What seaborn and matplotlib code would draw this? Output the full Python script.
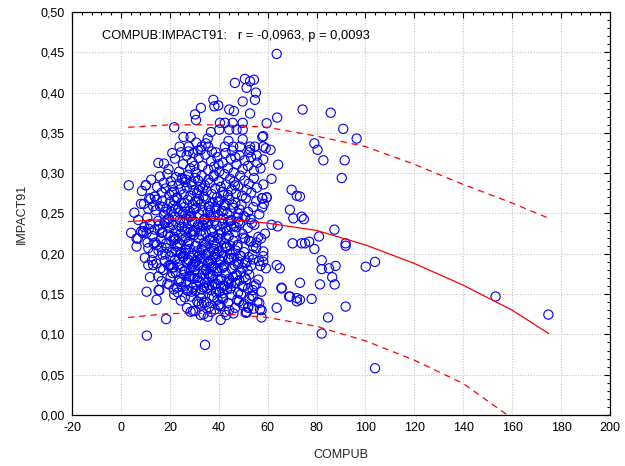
import matplotlib
matplotlib.use("Agg")
import matplotlib.pyplot as plt
from matplotlib.ticker import MultipleLocator, FuncFormatter
import seaborn as sns
import pandas as pd

# ---------------- data ----------------
# isolated / peripheral points
edge_x = [3.2, 10.6, 18.5, 34.4, 40.8, 63.7, 46.6, 50.7, 51.4, 52.8, 54.4, 55.2, 54.8,
          37.8, 38.2, 39.8, 32.7, 30.3, 30.7, 44.3, 46.2, 49.8, 52.8, 74.3, 63.9, 59.6, 21.8,
          85.8, 90.9, 96.4, 79.1, 80.4, 82.8, 91.5, 90.3, 73.2, 73.9, 74.8, 87.3, 81.0, 77.0,
          75.3, 73.9, 79.1, 91.9, 91.9, 82.1, 82.1, 85.1, 87.8, 100.1, 103.9, 73.2, 81.4, 86.4,
          87.4, 78.0, 73.2, 91.9, 84.7, 82.1, 103.9, 153.2, 174.8,
          64.1, 61.6, 57.3, 70.2, 69.1, 71.9, 71.9, 65.7, 65.0, 63.7, 63.7, 59.3, 58.2, 58.2,
          58.2, 57.5, 57.5, 57.5, 56.6, 54.1, 56.2, 54.1, 54.1, 52.1, 51.4, 53.5,
          69.8, 71.9, 69.1, 70.5, 64.3, 61.2, 61.6, 58.2, 59.2, 58.2, 58.2, 57.8, 57.8, 59.6,
          7.1, 6.4, 6.4, 9.1, 10.5, 11.2, 11.2, 10.5, 11.9, 13.2, 14.6, 15.7, 13.2, 16.6, 15.3,
          17.3, 10.2, 8.2, 11.2, 15.3, 17.6, 13.9, 13.2, 15.4, 28.5, 32.6, 51.4, 68.8, 65.7]
edge_y = [0.285, 0.0985, 0.119, 0.087, 0.118, 0.448, 0.412, 0.417, 0.406, 0.414, 0.416, 0.400, 0.391,
          0.391, 0.383, 0.384, 0.381, 0.373, 0.366, 0.379, 0.377, 0.389, 0.374, 0.379, 0.369, 0.362, 0.357,
          0.375, 0.355, 0.343, 0.337, 0.329, 0.316, 0.316, 0.294, 0.271, 0.246, 0.243, 0.230, 0.2215, 0.215,
          0.213, 0.213, 0.206, 0.213, 0.210, 0.192, 0.181, 0.182, 0.185, 0.184, 0.190, 0.164, 0.162, 0.171,
          0.162, 0.144, 0.143, 0.1345, 0.121, 0.101, 0.058, 0.147, 0.1246,
          0.234, 0.236, 0.219, 0.213, 0.147, 0.145, 0.141, 0.158, 0.182, 0.186, 0.133, 0.182, 0.203, 0.197,
          0.190, 0.153, 0.130, 0.121, 0.139, 0.147, 0.168, 0.193, 0.209, 0.1345, 0.1276, 0.238,
          0.2795, 0.272, 0.2547, 0.244, 0.3106, 0.329, 0.293, 0.346, 0.331, 0.317, 0.286, 0.2575, 0.269, 0.270,
          0.242, 0.209, 0.219, 0.228, 0.226, 0.207, 0.186, 0.153, 0.171, 0.201, 0.143, 0.155, 0.186, 0.166, 0.172,
          0.180, 0.285, 0.262, 0.2555, 0.3127, 0.312, 0.271, 0.259, 0.155, 0.128, 0.124, 0.127, 0.147, 0.157]

# upper part of the cloud (0.32 - 0.37)
top_x = [25.6, 28.5, 24.0, 27.7, 33.0, 35.7, 34.8, 35.5, 36.8, 40.5, 42.5, 45.7, 49.8, 40.2, 44.3,
         47.3, 49.8, 42.5, 45.9, 48.7, 52.8, 54.8, 58.2, 49.8, 57.8, 29.6, 31.5, 38.8, 52.5, 44.0,
         30.8, 55.5]
top_y = [0.345, 0.345, 0.333, 0.333, 0.333, 0.333, 0.337, 0.343, 0.351, 0.3625, 0.3625, 0.3625, 0.3625, 0.354, 0.354,
         0.354, 0.354, 0.333, 0.333, 0.333, 0.333, 0.333, 0.333, 0.342, 0.345, 0.325, 0.328, 0.326, 0.326, 0.340,
         0.338, 0.322]

# 0.30 - 0.33
b_x = [19.5, 22.1, 23.8, 25.4, 26.9, 28.3, 29.1, 30.6, 31.8, 33.2, 34.5, 35.7, 36.9, 38.1, 39.4, 40.2,
       41.6, 42.8, 43.7, 44.9, 46.1, 47.3, 48.5, 49.8, 50.6, 51.9, 53.2, 54.4, 55.8, 57.1, 27.7, 32.6,
       37.2, 45.5, 21.0, 24.6, 52.8, 39.9, 30.0, 46.8]
b_y = [0.305, 0.318, 0.302, 0.311, 0.322, 0.306, 0.314, 0.301, 0.319, 0.309, 0.323, 0.304, 0.315, 0.308, 0.320, 0.302,
       0.313, 0.325, 0.306, 0.318, 0.301, 0.311, 0.322, 0.305, 0.316, 0.309, 0.320, 0.303, 0.313, 0.306, 0.327, 0.329,
       0.327, 0.328, 0.325, 0.326, 0.329, 0.311, 0.309, 0.320]

# 0.27 - 0.30
c_x = [8.6, 10.2, 12.4, 13.9, 14.8, 15.9, 16.7, 17.5, 18.3, 19.0, 19.8, 20.4, 21.1, 21.7, 22.5, 23.0,
       23.8, 24.4, 25.1, 25.7, 26.3, 27.0, 27.6, 28.4, 29.0, 29.7, 30.3, 31.1, 31.6, 32.4, 33.0, 33.8,
       34.3, 35.1, 35.8, 36.4, 37.2, 37.9, 38.6, 39.3, 40.1, 40.8, 41.5, 42.3, 43.0, 43.8, 44.6, 45.3,
       46.2, 47.0, 47.9, 48.8, 49.6, 50.5, 51.4, 52.3, 53.3, 54.4, 55.6, 57.8, 59.6, 20.9, 24.9, 28.8,
       33.5, 38.0, 42.0, 46.6, 31.9, 26.6]
c_y = [0.278, 0.285, 0.292, 0.271, 0.283, 0.296, 0.276, 0.288, 0.281, 0.299,
       0.273, 0.290, 0.284, 0.277, 0.295, 0.270, 0.287, 0.280, 0.293, 0.274,
       0.289, 0.282, 0.298, 0.272, 0.286, 0.279, 0.294, 0.275, 0.291, 0.283,
       0.297, 0.271, 0.285, 0.278, 0.292, 0.288, 0.274, 0.296, 0.281, 0.270,
       0.290, 0.283, 0.277, 0.299, 0.286, 0.273, 0.293, 0.280, 0.289, 0.275,
       0.284, 0.297, 0.272, 0.291, 0.279, 0.287, 0.276, 0.294, 0.282, 0.269,
       0.270, 0.276, 0.294, 0.289, 0.281, 0.298, 0.273, 0.285, 0.279, 0.292]

# 0.24 - 0.27
d_x = [5.5, 9.4, 10.8, 12.1, 14.2, 15.3, 16.0, 16.9, 17.7, 18.6,
       19.3, 20.0, 20.7, 21.4, 22.0, 22.8, 23.4, 24.1, 24.7, 25.4,
       26.0, 26.8, 27.3, 28.1, 28.7, 29.4, 30.1, 30.7, 31.4, 32.1,
       32.8, 33.4, 34.1, 34.8, 35.5, 36.1, 36.8, 37.6, 38.3, 39.0,
       39.7, 40.4, 41.2, 41.9, 42.7, 43.5, 44.3, 45.1, 45.9, 46.8,
       47.6, 48.5, 49.3, 50.2, 51.1, 52.0, 53.0, 54.1, 55.3, 56.6,
       58.4, 17.2, 19.6, 21.9, 23.9, 25.9, 27.9, 29.9, 31.9, 33.9,
       35.9, 37.9, 39.9, 41.9, 43.9, 45.5, 48.0, 50.8, 14.6, 22.4,
       26.4, 30.4, 34.4, 38.4, 42.4, 11.6, 18.0, 28.4, 36.4, 44.8]
d_y = [0.251, 0.262, 0.245, 0.268, 0.254, 0.241, 0.259, 0.266, 0.248, 0.256,
       0.243, 0.264, 0.252, 0.260, 0.246, 0.269, 0.255, 0.242, 0.263, 0.250,
       0.258, 0.244, 0.267, 0.253, 0.247, 0.261, 0.240, 0.257, 0.265, 0.249,
       0.262, 0.254, 0.243, 0.268, 0.251, 0.259, 0.246, 0.264, 0.241, 0.256,
       0.248, 0.266, 0.253, 0.244, 0.260, 0.250, 0.267, 0.242, 0.257, 0.263,
       0.245, 0.255, 0.261, 0.247, 0.269, 0.252, 0.243, 0.258, 0.265, 0.249,
       0.262, 0.258, 0.244, 0.266, 0.251, 0.263, 0.246, 0.255, 0.268, 0.242,
       0.259, 0.247, 0.264, 0.253, 0.240, 0.261, 0.250, 0.245, 0.267, 0.256,
       0.249, 0.265, 0.243, 0.258, 0.261, 0.269, 0.252, 0.246, 0.254, 0.241]

# 0.21 - 0.24
e_x = [4.2, 6.9, 8.3, 9.6, 10.9, 12.0, 12.9, 13.8, 14.7, 15.5,
       16.3, 17.0, 17.8, 18.5, 19.2, 19.9, 20.6, 21.2, 21.9, 22.6,
       23.2, 23.9, 24.5, 25.2, 25.8, 26.5, 27.1, 27.8, 28.4, 29.1,
       29.8, 30.5, 31.2, 31.9, 32.6, 33.3, 34.0, 34.7, 35.4, 36.2,
       36.9, 37.7, 38.5, 39.2, 40.0, 40.8, 41.6, 42.4, 43.3, 44.1,
       45.0, 45.9, 46.8, 47.7, 48.7, 49.7, 50.8, 51.9, 53.1, 54.6,
       56.2, 11.4, 14.1, 16.7, 19.5, 22.3, 24.9, 27.5, 30.2, 32.9,
       35.6, 38.1, 40.6, 43.0, 46.3, 9.0, 13.4, 18.1, 21.6, 26.0,
       28.8, 31.6, 34.3, 37.3, 39.8, 42.8, 48.1, 52.5, 15.9, 20.3,
       24.0, 29.5, 33.7, 36.6, 41.2, 44.6, 47.2, 50.1, 55.4, 58.9]
e_y = [0.226, 0.219, 0.228, 0.233, 0.214, 0.237, 0.222, 0.230, 0.211, 0.235,
       0.218, 0.227, 0.239, 0.213, 0.224, 0.232, 0.216, 0.236, 0.221, 0.229,
       0.212, 0.234, 0.225, 0.217, 0.238, 0.220, 0.231, 0.215, 0.227, 0.240,
       0.223, 0.210, 0.233, 0.219, 0.228, 0.236, 0.214, 0.226, 0.239, 0.217,
       0.230, 0.221, 0.212, 0.235, 0.224, 0.218, 0.237, 0.213, 0.229, 0.222,
       0.234, 0.216, 0.227, 0.211, 0.238, 0.225, 0.219, 0.232, 0.215, 0.236,
       0.221, 0.231, 0.214, 0.226, 0.239, 0.218, 0.233, 0.212, 0.228, 0.223,
       0.237, 0.215, 0.230, 0.220, 0.234, 0.226, 0.213, 0.238, 0.217, 0.229,
       0.224, 0.236, 0.211, 0.227, 0.219, 0.232, 0.240, 0.216, 0.231, 0.222,
       0.213, 0.228, 0.235, 0.218, 0.226, 0.210, 0.233, 0.220, 0.214, 0.225]

# 0.18 - 0.21
f_x = [9.8, 14.5, 15.4, 16.2, 17.0, 17.9, 18.7, 19.4, 20.1, 20.8,
       21.5, 22.2, 22.9, 23.6, 24.3, 25.0, 25.6, 26.3, 27.0, 27.7,
       28.3, 29.0, 29.7, 30.4, 31.1, 31.8, 32.5, 33.2, 33.9, 34.6,
       35.3, 36.0, 36.7, 37.4, 38.1, 38.8, 39.5, 40.2, 40.9, 41.6,
       42.3, 43.0, 43.8, 44.6, 45.4, 46.2, 47.0, 47.8, 48.6, 49.5,
       50.4, 51.3, 52.2, 53.2, 55.3, 56.5, 18.2, 21.0, 23.9, 26.7,
       29.4, 32.1, 34.9, 37.8, 40.6, 43.4, 46.5, 49.1, 51.8, 24.7,
       27.4, 30.1, 32.9, 35.7, 38.5, 41.3, 44.2, 16.6, 19.9, 22.6,
       25.3, 28.0, 30.8, 33.6, 36.3, 39.1, 41.9, 45.0, 47.6, 50.7,
       12.7, 20.5, 26.0, 31.4, 36.9, 42.7, 48.2, 53.8, 57.0, 34.2]
f_y = [0.195, 0.188, 0.204, 0.182, 0.199, 0.191, 0.207, 0.185, 0.197, 0.202,
       0.183, 0.193, 0.209, 0.187, 0.200, 0.181, 0.196, 0.205, 0.189, 0.192,
       0.206, 0.184, 0.198, 0.190, 0.203, 0.186, 0.194, 0.208, 0.180, 0.199,
       0.188, 0.201, 0.192, 0.184, 0.206, 0.196, 0.182, 0.203, 0.190, 0.197,
       0.185, 0.208, 0.193, 0.200, 0.181, 0.195, 0.204, 0.187, 0.198, 0.183,
       0.202, 0.189, 0.196, 0.185, 0.207, 0.191, 0.200, 0.183, 0.194, 0.205,
       0.187, 0.198, 0.181, 0.203, 0.192, 0.209, 0.186, 0.197, 0.180, 0.201,
       0.193, 0.184, 0.206, 0.190, 0.199, 0.182, 0.195, 0.208, 0.186, 0.203,
       0.197, 0.180, 0.191, 0.205, 0.188, 0.200, 0.184, 0.194, 0.209, 0.189,
       0.192, 0.186, 0.201, 0.196, 0.183, 0.207, 0.190, 0.199, 0.185, 0.194]

# 0.15 - 0.18
g_x = [19.0, 20.3, 21.6, 22.4, 23.3, 24.1, 25.0, 25.8, 26.7, 27.5,
       28.4, 29.2, 30.0, 30.9, 31.7, 32.6, 33.4, 34.3, 35.1, 36.0,
       36.8, 37.7, 38.5, 39.4, 40.3, 41.1, 42.0, 42.9, 43.9, 44.8,
       45.8, 46.8, 47.9, 49.0, 50.1, 51.2, 52.5, 53.9, 55.2, 23.7,
       26.2, 28.9, 31.3, 33.9, 36.4, 39.0, 41.6, 44.2, 46.9, 49.6,
       52.0, 21.1, 24.6, 27.9, 30.5, 34.7, 37.2, 40.7, 43.4, 47.4,
       22.9, 29.6, 35.6, 38.9, 45.1, 50.6, 32.2, 26.0, 42.5, 48.4,
       54.5, 19.7, 33.0, 37.0, 41.0, 44.0, 30.2, 27.0, 39.6, 36.0]
g_y = [0.163, 0.171, 0.156, 0.177, 0.152, 0.168, 0.159, 0.174, 0.165, 0.154,
       0.172, 0.158, 0.179, 0.161, 0.167, 0.151, 0.175, 0.164, 0.157, 0.170,
       0.155, 0.173, 0.162, 0.178, 0.153, 0.169, 0.160, 0.176, 0.166, 0.157,
       0.171, 0.164, 0.152, 0.177, 0.159, 0.168, 0.174, 0.155, 0.162, 0.166,
       0.178, 0.153, 0.170, 0.158, 0.175, 0.163, 0.151, 0.169, 0.173, 0.160,
       0.157, 0.176, 0.165, 0.172, 0.154, 0.180, 0.161, 0.167, 0.156, 0.174,
       0.158, 0.169, 0.176, 0.152, 0.163, 0.171, 0.165, 0.179, 0.160, 0.167,
       0.160, 0.162, 0.156, 0.172, 0.158, 0.164, 0.170, 0.155, 0.168, 0.161]

# 0.12 - 0.15
h_x = [24.5, 27.0, 28.6, 30.4, 31.8, 32.9, 33.8, 34.9, 36.1, 37.3,
       38.4, 39.5, 40.4, 41.5, 42.6, 43.8, 45.2, 46.7, 48.3, 49.9,
       51.0, 52.6, 54.3, 55.8, 29.5, 33.1, 35.5, 38.0, 40.9, 44.3,
       47.6, 50.4, 53.4, 56.9, 26.1, 31.2, 36.8, 41.8, 46.0, 21.8,
       34.0, 39.9, 43.1, 49.1, 52.0]
h_y = [0.142, 0.133, 0.147, 0.129, 0.138, 0.145, 0.125, 0.140, 0.134, 0.148,
       0.131, 0.143, 0.137, 0.146, 0.128, 0.139, 0.149, 0.133, 0.141, 0.136,
       0.127, 0.144, 0.132, 0.140, 0.129, 0.137, 0.122, 0.146, 0.135, 0.130,
       0.143, 0.138, 0.148, 0.131, 0.146, 0.141, 0.128, 0.144, 0.126, 0.149,
       0.139, 0.136, 0.124, 0.150, 0.133]

# regression line and 95% bands
fit_x = [3, 20, 40, 60, 80, 100, 120, 140, 160, 175]
fit_y = [0.240, 0.243, 0.244, 0.238, 0.229, 0.211, 0.188, 0.161, 0.130, 0.101]
upper_y = [0.357, 0.360, 0.360, 0.357, 0.346, 0.333, 0.311, 0.286, 0.263, 0.244]
lower_x = [3, 20, 40, 60, 80, 100, 120, 140, 158]
lower_y = [0.121, 0.126, 0.126, 0.121, 0.110, 0.092, 0.068, 0.039, 0.0]

annotation = "COMPUB:IMPACT91:   r = -0,0963, p = 0,0093"

# ---------------- build frames ----------------
xs, ys = [], []
for bx, by in [(edge_x, edge_y), (top_x, top_y), (b_x, b_y), (c_x, c_y), (d_x, d_y),
               (e_x, e_y), (f_x, f_y), (g_x, g_y), (h_x, h_y)]:
    for a, b in zip(bx, by):
        xs.append(a)
        ys.append(b)
df = pd.DataFrame({"COMPUB": xs, "IMPACT91": ys})
fit_df = pd.DataFrame({"COMPUB": fit_x, "fit": fit_y, "upper": upper_y})
low_df = pd.DataFrame({"COMPUB": lower_x, "lower": lower_y})

# ---------------- plot ----------------
sns.set_theme(style="white")
plt.rcParams["font.family"] = ["Liberation Sans", "DejaVu Sans"]

fig = plt.figure(figsize=(6.25, 4.66), dpi=100)
ax = fig.add_axes([72 / 625, 51 / 466, 538 / 625, 403 / 466])

ax.grid(True, which="major", color="#c4c4c4", linestyle=(0, (1, 1.5)), linewidth=0.8)
ax.set_axisbelow(True)

sns.scatterplot(data=df, x="COMPUB", y="IMPACT91", ax=ax, marker="o", s=44,
                facecolor="none", edgecolor="#0000ff", linewidth=0.8, zorder=3)

line_kw = dict(estimator=None, sort=True, ax=ax, color="#ff0000", zorder=4)
sns.lineplot(data=fit_df, x="COMPUB", y="fit", linewidth=0.9, **line_kw)
sns.lineplot(data=fit_df, x="COMPUB", y="upper", linewidth=0.9,
             linestyle=(0, (5, 4)), **line_kw)
sns.lineplot(data=low_df, x="COMPUB", y="lower", linewidth=0.9,
             linestyle=(0, (5, 4)), **line_kw)

ax.set_xlim(-20, 200)
ax.set_ylim(0, 0.5)
ax.xaxis.set_major_locator(MultipleLocator(20))
ax.xaxis.set_minor_locator(MultipleLocator(4))
ax.yaxis.set_major_locator(MultipleLocator(0.05))
ax.yaxis.set_minor_locator(MultipleLocator(0.01))
ax.yaxis.set_major_formatter(FuncFormatter(lambda v, p: f"{v:.2f}".replace(".", ",")))
ax.xaxis.set_major_formatter(FuncFormatter(lambda v, p: f"{v:.0f}"))

ax.tick_params(which="both", direction="in", top=True, right=True, colors="black",
               labelsize=9, width=0.8)
ax.tick_params(which="major", length=4, pad=5)
ax.tick_params(which="minor", length=2.5)
for s in ax.spines.values():
    s.set_color("black")
    s.set_linewidth(0.9)

ax.set_xlabel("COMPUB", fontsize=9, labelpad=11)
ax.set_ylabel("IMPACT91", fontsize=9, labelpad=9)

ax.text(0.056, 0.94, annotation, transform=ax.transAxes, fontsize=9.3,
        ha="left", va="center", color="black")

fig.savefig("out.png", dpi=100)
